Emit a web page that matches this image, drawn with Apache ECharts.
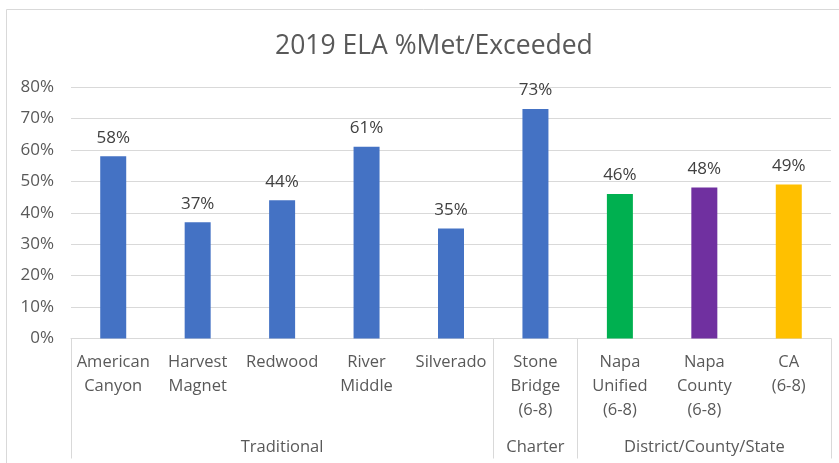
<!DOCTYPE html>
<html>
<head>
<meta charset="utf-8">
<script src="https://cdn.jsdelivr.net/npm/echarts@6/dist/echarts.min.js"></script>
<style>
html,body{margin:0;padding:0;background:#fff;}
#chart{width:839px;height:463px;}
</style>
</head>
<body>
<div id="chart"></div>
<script>
const categories = ['American\nCanyon', 'Harvest\nMagnet', 'Redwood', 'River\nMiddle', 'Silverado', 'Stone\nBridge\n(6-8)', 'Napa\nUnified\n(6-8)', 'Napa\nCounty\n(6-8)', 'CA\n(6-8)'];
const values = [58, 37, 44, 61, 35, 73, 46, 48, 49];
const groupLabels = ['', '', 'Traditional', '', '', 'Charter', '', 'District/County/State', ''];
const groupStarts = [0, 5, 6];
const barColors = ['#4472C4', '#4472C4', '#4472C4', '#4472C4', '#4472C4', '#4472C4', '#00B050', '#7030A0', '#FFC000'];
const yTicks = [0, 10, 20, 30, 40, 50, 60, 70, 80];

const FONT = '"Open Sans", sans-serif';
const chart = echarts.init(document.getElementById('chart'));
chart.setOption({
  backgroundColor: '#fff',
  animation: false,
  title: {
    text: '2019 ELA %Met/Exceeded',
    left: 270,
    top: 28,
    textStyle: { fontFamily: FONT, fontSize: 26.5, fontWeight: 'normal', color: '#595959' }
  },
  graphic: [{
    type: 'rect', left: 4, top: 7,
    shape: { width: 860, height: 480 },
    style: { fill: 'none', stroke: '#d9d9d9', lineWidth: 1 }
  }],
  grid: { left: 71, right: 8, top: 87, bottom: 124.5 },
  xAxis: [{
    type: 'category',
    data: categories,
    axisLine: { lineStyle: { color: '#d9d9d9' } },
    axisTick: { show: false },
    axisLabel: { interval: 0, margin: 12, fontFamily: FONT, fontSize: 16.5, lineHeight: 24, color: '#595959' }
  }, {
    type: 'category',
    data: groupLabels,
    position: 'bottom',
    axisLine: { show: false },
    axisTick: {
      show: true, length: 120,
      interval: function (idx) { return groupStarts.indexOf(idx) >= 0; },
      lineStyle: { color: '#d9d9d9' }
    },
    axisLabel: { interval: 0, margin: 97, fontFamily: FONT, fontSize: 16.5, lineHeight: 24, color: '#595959' }
  }],
  yAxis: {
    type: 'value',
    min: yTicks[0], max: yTicks[yTicks.length - 1], interval: 10,
    axisLine: { show: false },
    axisTick: { show: false },
    splitLine: { lineStyle: { color: '#d9d9d9' } },
    axisLabel: { formatter: '{value}%', margin: 17, fontFamily: FONT, fontSize: 17, color: '#595959' }
  },
  series: [{
    type: 'bar',
    xAxisIndex: 0,
    barWidth: 26,
    data: values.map((v, i) => ({ value: v, itemStyle: { color: barColors[i] } })),
    label: {
      show: true, position: 'top', distance: 10,
      formatter: '{c}%', fontFamily: FONT, fontSize: 17, color: '#404040'
    }
  }]
});
</script>
</body>
</html>
